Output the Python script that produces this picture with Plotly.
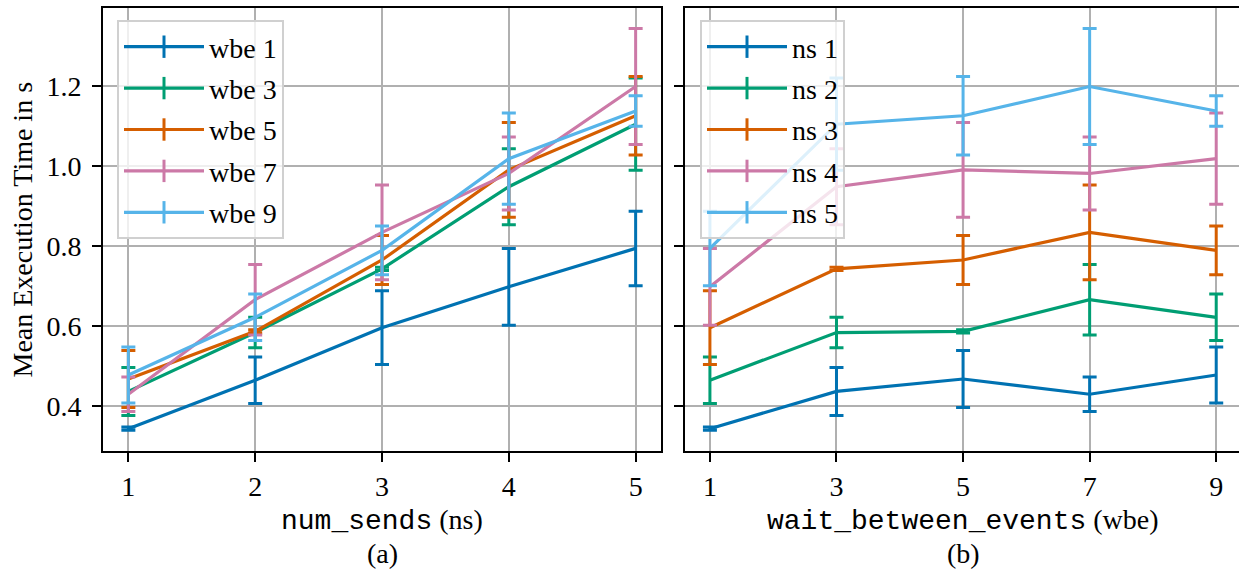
import numpy as np
import plotly.graph_objects as go

# Experiment grid
ns_values = [1, 2, 3, 4, 5]          # num_sends
wbe_values = [1, 3, 5, 7, 9]         # wait_between_events

# Mean execution time (s), one list per num_sends, ordered by wait_between_events
mean_ns1 = [0.344, 0.437, 0.468, 0.430, 0.478]
mean_ns2 = [0.465, 0.584, 0.587, 0.666, 0.622]
mean_ns3 = [0.596, 0.743, 0.765, 0.834, 0.789]
mean_ns4 = [0.698, 0.948, 0.990, 0.981, 1.018]
mean_ns5 = [0.794, 1.104, 1.125, 1.198, 1.137]

# Standard deviation (s), same layout
std_ns1 = [0.004, 0.060, 0.071, 0.043, 0.070]
std_ns2 = [0.058, 0.038, 0.004, 0.088, 0.058]
std_ns3 = [0.092, 0.004, 0.061, 0.118, 0.061]
std_ns4 = [0.096, 0.095, 0.118, 0.091, 0.114]
std_ns5 = [0.093, 0.115, 0.098, 0.145, 0.038]

y_ticks = [0.4, 0.6, 0.8, 1.0, 1.2]

colors = ["#0072B2", "#009E73", "#D55E00", "#CC79A7", "#56B4E9"]

mean = np.array([mean_ns1, mean_ns2, mean_ns3, mean_ns4, mean_ns5])
std = np.array([std_ns1, std_ns2, std_ns3, std_ns4, std_ns5])

W, H = 1239, 569
SERIF = "Liberation Serif"
MONO = "Liberation Mono"
FS = 28


def px_x(v):
    return v / W


def px_y(v):
    return 1 - v / H


fig = go.Figure()


def add_series(x, y, err, color, name, xa, ya, legend):
    fig.add_trace(go.Scatter(
        x=x, y=y, mode="lines",
        line=dict(color=color, width=3.2),
        error_y=dict(type="data", array=err, visible=True,
                     color=color, thickness=3, width=7),
        xaxis=xa, yaxis=ya, showlegend=False, hoverinfo="skip",
    ))
    # legend entry: line with a vertical bar marker
    fig.add_trace(go.Scatter(
        x=[None], y=[None], mode="lines+markers", name=name,
        line=dict(color=color, width=3.2),
        marker=dict(symbol="line-ns", size=16,
                    line=dict(color=color, width=3)),
        xaxis=xa, yaxis=ya, legend=legend, legendgroup=legend + name,
    ))


# (a) x = num_sends, one line per wait_between_events
for j, wbe in enumerate(wbe_values):
    add_series(ns_values, mean[:, j], std[:, j], colors[j],
               f"wbe {wbe}", "x", "y", "legend")

# (b) x = wait_between_events, one line per num_sends
for i, ns in enumerate(ns_values):
    add_series(wbe_values, mean[i, :], std[i, :], colors[i],
               f"ns {ns}", "x2", "y2", "legend2")

axis_common = dict(
    showgrid=True, gridcolor="#b0b0b0", gridwidth=2,
    showline=True, linecolor="black", linewidth=2,
    ticks="outside", ticklen=9, tickwidth=2, tickcolor="black",
    tickfont=dict(family=SERIF, size=FS, color="black"),
    zeroline=False,
)

y_lo, y_hi = 0.2883, 1.394

legend_common = dict(
    font=dict(family=SERIF, size=FS, color="black"),
    bgcolor="rgba(255,255,255,0.8)", bordercolor="#d0d0d0", borderwidth=2,
    xanchor="left", yanchor="top", y=px_y(20),
    traceorder="grouped", tracegroupgap=2, itemwidth=80,
)

fig.update_layout(
    width=W, height=H,
    margin=dict(l=0, r=0, t=0, b=0),
    paper_bgcolor="white", plot_bgcolor="white",
    xaxis=dict(domain=[px_x(103), px_x(661)], range=[0.8, 5.2],
               tickvals=ns_values, mirror=True, anchor="y", **axis_common),
    yaxis=dict(domain=[px_y(451), px_y(8)], range=[y_lo, y_hi],
               tickvals=y_ticks, tickformat=".1f", mirror=True,
               ticklabelstandoff=5, anchor="x", **axis_common),
    xaxis2=dict(domain=[px_x(684.6), 1.0], range=[0.6, 9.36],
                tickvals=wbe_values, mirror=True, anchor="y2", **axis_common),
    yaxis2=dict(domain=[px_y(451), px_y(8)], range=[y_lo, y_hi],
                tickvals=y_ticks, showticklabels=False, mirror=False,
                anchor="x2", matches="y", **axis_common),
    legend=dict(x=px_x(117), **legend_common),
    legend2=dict(x=px_x(700), **legend_common),
    showlegend=True,
)


def mixed(code, rest):
    return (f'<span style="font-family:{MONO}">{code}</span>'
            f'<span style="font-family:{SERIF}"> {rest}</span>')


text_font = dict(family=SERIF, size=FS, color="black")
annotations = [
    dict(text="Mean Execution Time in s", x=px_x(22), y=px_y(229.5),
         textangle=-90),
    dict(text=mixed("num_sends", "(ns)"), x=px_x(382), y=px_y(520)),
    dict(text="(a)", x=px_x(382), y=px_y(553)),
    dict(text=mixed("wait_between_events", "(wbe)"), x=px_x(963), y=px_y(520)),
    dict(text="(b)", x=px_x(963), y=px_y(553)),
]
for a in annotations:
    fig.add_annotation(xref="paper", yref="paper", showarrow=False,
                       xanchor="center", yanchor="middle", font=text_font, **a)

fig.write_html("out.html")
